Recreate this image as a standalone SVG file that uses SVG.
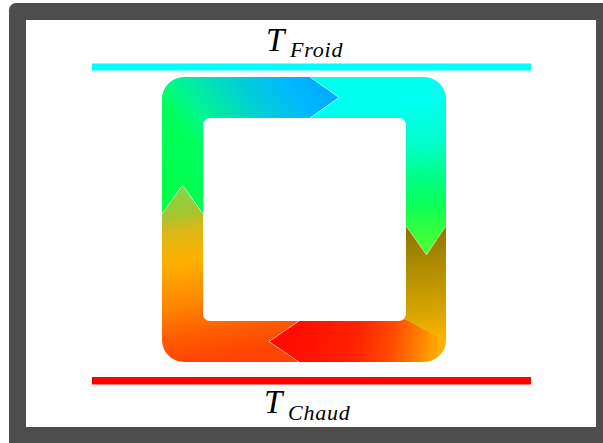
<svg xmlns="http://www.w3.org/2000/svg" width="603" height="443" viewBox="0 0 603 443">
<style>
  .lbl { font-family: "Liberation Serif", "Times New Roman", serif; font-style: italic; fill: #000; }
  .seam { fill: none; stroke: #ffffff; stroke-opacity: 0.55; stroke-width: 0.8; }
</style>
<defs>
  <linearGradient id="gTL" gradientUnits="userSpaceOnUse" x1="182" y1="214" x2="335" y2="97">
    <stop offset="0" stop-color="#00ff48"/>
    <stop offset="0.28" stop-color="#00ff5c"/>
    <stop offset="0.38" stop-color="#00f88c"/>
    <stop offset="0.65" stop-color="#00cfd6"/>
    <stop offset="0.85" stop-color="#00b8ff"/>
    <stop offset="1" stop-color="#00aaff"/>
  </linearGradient>
  <linearGradient id="gTR" gradientUnits="userSpaceOnUse" x1="420" y1="105" x2="430" y2="255">
    <stop offset="0" stop-color="#00ffee"/>
    <stop offset="0.25" stop-color="#00ffcc"/>
    <stop offset="0.5" stop-color="#00ff80"/>
    <stop offset="0.68" stop-color="#10ff55"/>
    <stop offset="0.82" stop-color="#30ff40"/>
    <stop offset="1" stop-color="#55ff30"/>
  </linearGradient>
  <linearGradient id="gBRa" gradientUnits="userSpaceOnUse" x1="426" y1="226" x2="436" y2="342">
    <stop offset="0" stop-color="#8a7600"/>
    <stop offset="0.35" stop-color="#b08c00"/>
    <stop offset="0.7" stop-color="#d4a200"/>
    <stop offset="1" stop-color="#ffb400"/>
  </linearGradient>
  <linearGradient id="gBRb" gradientUnits="userSpaceOnUse" x1="440" y1="348" x2="272" y2="318">
    <stop offset="0" stop-color="#ffb000"/>
    <stop offset="0.12" stop-color="#ff8400"/>
    <stop offset="0.28" stop-color="#ff4c00"/>
    <stop offset="0.48" stop-color="#ff2400"/>
    <stop offset="0.75" stop-color="#ff1200"/>
    <stop offset="1" stop-color="#ff0800"/>
  </linearGradient>
  <linearGradient id="gBL" gradientUnits="userSpaceOnUse" x1="176" y1="185" x2="205" y2="360">
    <stop offset="0" stop-color="#7cd84a"/>
    <stop offset="0.17" stop-color="#a8c430"/>
    <stop offset="0.25" stop-color="#d8b818"/>
    <stop offset="0.43" stop-color="#ffb000"/>
    <stop offset="0.65" stop-color="#ff8a00"/>
    <stop offset="0.85" stop-color="#ff5c00"/>
    <stop offset="1" stop-color="#ff4400"/>
  </linearGradient>
  <clipPath id="clipBRa">
    <polygon points="380,200 470,200 470,354 406,320 380,320"/>
  </clipPath>
  <path id="brShape" d="M406,226 L426.5,255 L446,226 L446,340 A22,22 0 0 1 424,362 L299,362 L269,341.5 L299,321 L399,321 A7,7 0 0 0 406,314 Z"/>
</defs>

<g id="frame">
  <rect x="9" y="3" width="610" height="450" rx="7" fill="#4d4d4d"/>
  <rect x="26" y="20" width="570" height="407" fill="#ffffff"/>
</g>

<g id="cold-line">
  <rect x="92" y="63.5" width="439" height="7" fill="#00ffff"/>
  <text class="lbl" x="266" y="51" font-size="33">T</text>
  <text class="lbl" x="290" y="57" font-size="22" letter-spacing="0.8">Froid</text>
</g>

<g id="hot-line">
  <rect x="92" y="377" width="439" height="7.5" fill="#ff0000"/>
  <text class="lbl" x="264" y="413" font-size="33">T</text>
  <text class="lbl" x="288" y="420" font-size="22" letter-spacing="0.8">Chaud</text>
</g>

<g id="piece-top-left">
  <path fill="url(#gTL)" d="M162,214 L182.5,185 L203,214 L203,125 A7,7 0 0 1 210,118 L310,118 L339,97.5 L310,77 L184,77 A22,22 0 0 0 162,99 Z"/>
</g>
<g id="piece-top-right">
  <path fill="url(#gTR)" d="M310,77 L339,97.5 L310,118 L399,118 A7,7 0 0 1 406,125 L406,226 L426.5,255 L446,226 L446,99 A22,22 0 0 0 424,77 Z"/>
</g>
<g id="piece-bottom-right">
  <use href="#brShape" fill="url(#gBRb)"/>
  <use href="#brShape" fill="url(#gBRa)" clip-path="url(#clipBRa)"/>
</g>
<g id="piece-bottom-left">
  <path fill="url(#gBL)" d="M299,362 L269,341.5 L299,321 L210,321 A7,7 0 0 1 203,314 L203,214 L182.5,185 L162,214 L162,340 A22,22 0 0 0 184,362 Z"/>
</g>

<g id="connectors">
  <polyline class="seam" points="310,77 339,97.5 310,118"/>
  <polyline class="seam" points="406,226 426.5,255 446,226"/>
  <polyline class="seam" points="299,321 269,341.5 299,362"/>
  <polyline class="seam" points="162,214 182.5,185 203,214"/>
</g>
</svg>
